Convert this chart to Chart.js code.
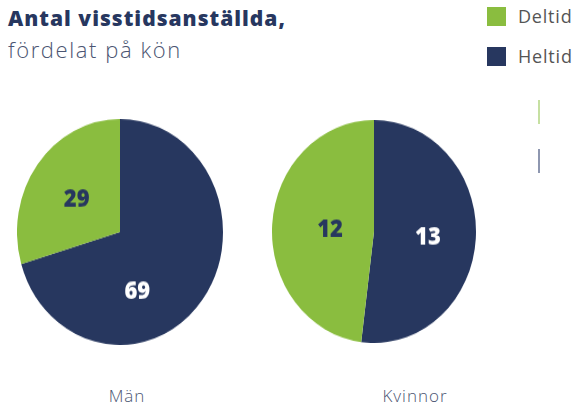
<!DOCTYPE html>
<html>
<head>
<meta charset="utf-8">
<script src="https://cdn.jsdelivr.net/npm/chart.js@4"></script>
<style>
  body { margin: 0; background: #fff; width: 577px; height: 409px; position: relative; overflow: hidden; font-family: "Open Sans", sans-serif; }
  .title { position: absolute; left: 8px; top: 3px; font-size: 21px; line-height: 31px; color: #27375f; white-space: nowrap; }
  .title b { font-weight: 800; letter-spacing: 1px; }
  .title span { font-weight: 300; color: #4b5572; font-size: 22px; letter-spacing: 1.6px; }
  .legend { position: absolute; left: 487px; font-size: 18px; color: #555; white-space: nowrap; letter-spacing: 0.8px; }
  .legend i { display: inline-block; width: 19px; height: 19px; vertical-align: -3px; margin-right: 12px; }
  .pie { position: absolute; transform-origin: 0 0; }
  .bar { position: absolute; left: 538px; width: 2px; height: 24px; }
  .cat { position: absolute; top: 384px; font-size: 17px; font-weight: 300; color: #4b5572; letter-spacing: 1px; transform: translateX(-50%); }
</style>
</head>
<body>
<div class="title"><b>Antal visstidsanställda,</b><br><span>fördelat på kön</span></div>
<div class="legend" style="top:4px"><i style="background:#8abd3f"></i>Deltid</div>
<div class="legend" style="top:44px"><i style="background:#27375f"></i>Heltid</div>
<div class="bar" style="top:100px;background:#c6e0a2"></div>
<div class="bar" style="top:149px;background:#8e97b0"></div>
<div class="pie" style="left:17px;top:119px;transform:scaleY(1.097)"><canvas id="pie0" width="206" height="206"></canvas></div>
<div class="pie" style="left:272px;top:120px;transform:scaleY(1.093)"><canvas id="pie1" width="204" height="204"></canvas></div>
<div class="cat" style="left:127px">Män</div>
<div class="cat" style="left:415px">Kvinnor</div>
<script>
// Data
const groups = ["Män", "Kvinnor"];
const seriesNames = ["Heltid", "Deltid"];
const heltid = [69, 13];
const deltid = [29, 12];

const navy = "#27375f";
const green = "#8abd3f";

// small per-slice nudges for the value labels (px)
const nudges = [
  [[-24, 24], [-2, 2]],
  [[3, 3], [7, 2]],
];

const valueLabels = {
  id: "valueLabels",
  afterDatasetsDraw(chart, args, opts) {
    const ctx = chart.ctx;
    const arcs = chart.getDatasetMeta(0).data;
    ctx.save();
    ctx.font = "800 22px 'Open Sans'";
    ctx.textAlign = "center";
    ctx.textBaseline = "middle";
    arcs.forEach((arc, i) => {
      const p = arc.getProps(["x", "y", "startAngle", "endAngle", "outerRadius"], true);
      const mid = (p.startAngle + p.endAngle) / 2;
      const r = p.outerRadius * 0.5;
      const n = opts.nudge[i];
      ctx.fillStyle = i === 0 ? "#ffffff" : navy;
      ctx.fillText(chart.data.datasets[0].data[i], p.x + Math.cos(mid) * r + n[0], p.y + Math.sin(mid) * r + n[1]);
    });
    ctx.restore();
  },
};

groups.forEach((g, k) => {
  const ctx = document.getElementById("pie" + k).getContext("2d");
  new Chart(ctx, {
    type: "pie",
    data: {
      labels: seriesNames,
      datasets: [
        {
          data: [heltid[k], deltid[k]],
          backgroundColor: [navy, green],
          borderWidth: 0,
        },
      ],
    },
    options: {
      responsive: false,
      animation: false,
      layout: { padding: 0 },
      plugins: {
        legend: { display: false },
        tooltip: { enabled: false },
        valueLabels: { nudge: nudges[k] },
      },
    },
    plugins: [valueLabels],
  });
});
</script>
</body>
</html>
